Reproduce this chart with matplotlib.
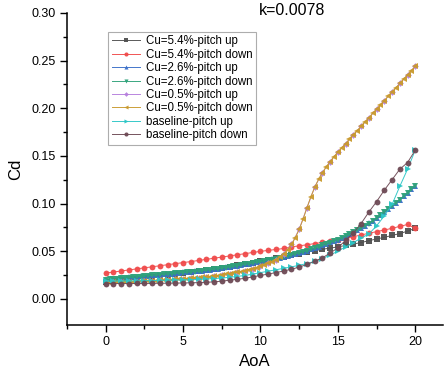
import numpy as np
import matplotlib
matplotlib.use("Agg")
import matplotlib.pyplot as plt

plt.rcParams['font.family'] = ['Liberation Sans', 'DejaVu Sans']

# angle of attack grids
aoa_half = np.arange(0, 20.01, 0.5)      # 41 points
aoa_quarter = np.arange(0, 20.01, 0.25)  # 81 points

# Cu=5.4%
cu54_up = [0.0180, 0.0187, 0.0195, 0.0203, 0.0211, 0.0219, 0.0228, 0.0237, 0.0246, 0.0256,
           0.0266, 0.0277, 0.0288, 0.0299, 0.0311, 0.0323, 0.0336, 0.0350, 0.0364, 0.0379,
           0.0395, 0.0410, 0.0425, 0.0440, 0.0460, 0.0475, 0.0490, 0.0505, 0.0520, 0.0532,
           0.0545, 0.0560, 0.0575, 0.0590, 0.0610, 0.0628, 0.0645, 0.0665, 0.0685, 0.0710,
           0.0740]
cu54_down = [0.0270, 0.0281, 0.0292, 0.0303, 0.0314, 0.0325, 0.0336, 0.0347, 0.0358, 0.0369,
             0.0380, 0.0391, 0.0402, 0.0414, 0.0426, 0.0438, 0.0450, 0.0462, 0.0474, 0.0486,
             0.0498, 0.0508, 0.0518, 0.0528, 0.0545, 0.0556, 0.0567, 0.0580, 0.0592, 0.0605,
             0.0620, 0.0636, 0.0652, 0.0670, 0.0688, 0.0705, 0.0722, 0.0740, 0.0760, 0.0780,
             0.0740]

# Cu=2.6%
cu26_down = [0.0200, 0.0204, 0.0208, 0.0211, 0.0215, 0.0219, 0.0223, 0.0226, 0.0230, 0.0234,
             0.0238, 0.0241, 0.0245, 0.0249, 0.0253, 0.0256, 0.0260, 0.0264, 0.0268, 0.0271,
             0.0275, 0.0279, 0.0283, 0.0286, 0.0290, 0.0295, 0.0300, 0.0305, 0.0310, 0.0316,
             0.0322, 0.0328, 0.0335, 0.0341, 0.0347, 0.0353, 0.0360, 0.0367, 0.0375, 0.0382,
             0.0390, 0.0397, 0.0405, 0.0412, 0.0420, 0.0430, 0.0440, 0.0450, 0.0460, 0.0471,
             0.0482, 0.0493, 0.0505, 0.0518, 0.0532, 0.0546, 0.0560, 0.0575, 0.0590, 0.0605,
             0.0620, 0.0638, 0.0658, 0.0678, 0.0700, 0.0722, 0.0745, 0.0767, 0.0790, 0.0818,
             0.0848, 0.0878, 0.0910, 0.0942, 0.0975, 0.1007, 0.1040, 0.1075, 0.1110, 0.1148,
             0.1186]
cu26_up = [0.0202, 0.0205, 0.0209, 0.0213, 0.0216, 0.0220, 0.0224, 0.0228, 0.0231, 0.0235,
           0.0239, 0.0243, 0.0246, 0.0250, 0.0254, 0.0258, 0.0262, 0.0265, 0.0269, 0.0273,
           0.0277, 0.0281, 0.0284, 0.0288, 0.0292, 0.0297, 0.0302, 0.0307, 0.0312, 0.0318,
           0.0324, 0.0330, 0.0336, 0.0342, 0.0348, 0.0355, 0.0362, 0.0369, 0.0376, 0.0383,
           0.0391, 0.0398, 0.0406, 0.0414, 0.0422, 0.0431, 0.0441, 0.0451, 0.0461, 0.0472,
           0.0483, 0.0494, 0.0506, 0.0519, 0.0533, 0.0547, 0.0561, 0.0576, 0.0591, 0.0606,
           0.0622, 0.0640, 0.0659, 0.0680, 0.0701, 0.0723, 0.0746, 0.0768, 0.0791, 0.0819,
           0.0849, 0.0879, 0.0911, 0.0943, 0.0976, 0.1008, 0.1041, 0.1076, 0.1111, 0.1148,
           0.1186]

# Cu=0.5%
cu05_down = [0.0170, 0.0171, 0.0172, 0.0173, 0.0175, 0.0176, 0.0178, 0.0179, 0.0181, 0.0183,
             0.0185, 0.0187, 0.0189, 0.0191, 0.0193, 0.0195, 0.0198, 0.0200, 0.0203, 0.0206,
             0.0209, 0.0212, 0.0215, 0.0218, 0.0222, 0.0226, 0.0230, 0.0234, 0.0239, 0.0244,
             0.0250, 0.0256, 0.0263, 0.0270, 0.0278, 0.0286, 0.0295, 0.0305, 0.0316, 0.0328,
             0.0341, 0.0355, 0.0371, 0.0389, 0.0410, 0.0436, 0.0470, 0.0515, 0.0570, 0.0640,
             0.0730, 0.0835, 0.0955, 0.1070, 0.1170, 0.1255, 0.1325, 0.1385, 0.1440, 0.1492,
             0.1540, 0.1585, 0.1630, 0.1676, 0.1721, 0.1765, 0.1810, 0.1856, 0.1900, 0.1946,
             0.1990, 0.2034, 0.2080, 0.2126, 0.2170, 0.2214, 0.2260, 0.2306, 0.2350, 0.2396,
             0.2440]
cu05_up = [0.0170, 0.0172, 0.0175, 0.0178, 0.0181, 0.0185, 0.0189, 0.0193, 0.0198, 0.0203,
           0.0209, 0.0215, 0.0222, 0.0230, 0.0239, 0.0250, 0.0263, 0.0278, 0.0295, 0.0316,
           0.0341, 0.0371, 0.0410, 0.0470, 0.0570, 0.0730, 0.0955, 0.1170, 0.1325, 0.1440,
           0.1540, 0.1630, 0.1721, 0.1810, 0.1900, 0.1990, 0.2080, 0.2170, 0.2260, 0.2350,
           0.2440]

# baseline
base_up = [0.0185, 0.0186, 0.0187, 0.0188, 0.0189, 0.0190, 0.0192, 0.0193, 0.0195, 0.0196,
           0.0198, 0.0200, 0.0203, 0.0207, 0.0212, 0.0218, 0.0226, 0.0235, 0.0245, 0.0259,
           0.0275, 0.0290, 0.0305, 0.0320, 0.0335, 0.0352, 0.0370, 0.0393, 0.0420, 0.0460,
           0.0500, 0.0545, 0.0590, 0.0637, 0.0680, 0.0766, 0.0870, 0.0990, 0.1180, 0.1360,
           0.1560]
base_down = [0.0160, 0.0160, 0.0160, 0.0160, 0.0161, 0.0161, 0.0162, 0.0163, 0.0164, 0.0165,
             0.0166, 0.0168, 0.0170, 0.0173, 0.0178, 0.0185, 0.0195, 0.0205, 0.0215, 0.0230,
             0.0245, 0.0260, 0.0275, 0.0292, 0.0310, 0.0333, 0.0360, 0.0393, 0.0430, 0.0480,
             0.0535, 0.0615, 0.0690, 0.0790, 0.0910, 0.1020, 0.1140, 0.1250, 0.1360, 0.1430,
             0.1560]

labels = ['Cu=5.4%-pitch up', 'Cu=5.4%-pitch down', 'Cu=2.6%-pitch up',
          'Cu=2.6%-pitch down', 'Cu=0.5%-pitch up', 'Cu=0.5%-pitch down',
          'baseline-pitch up', 'baseline-pitch down']

fig = plt.figure(figsize=(4.44, 3.79), dpi=100)
ax = fig.add_axes([0.151, 0.1425, 0.847, 0.8232])

series = [
    (aoa_half, cu54_up, '#505050', 's'),
    (aoa_half, cu54_down, '#F04B4B', 'o'),
    (aoa_quarter, cu26_up, '#3A6FC8', '^'),
    (aoa_quarter, cu26_down, '#2FA27A', 'v'),
    (aoa_half, cu05_up, '#B67FDD', 'D'),
    (aoa_quarter, cu05_down, '#C99A2E', '<'),
    (aoa_half, base_up, '#2CC6C6', '>'),
    (aoa_half, base_down, '#6E4A55', 'o'),
]
for (x, y, c, m), lab in zip(series, labels):
    ms = 4.2 if m != 'D' else 3.4
    ax.plot(x, y, color=c, marker=m, markersize=ms, markeredgewidth=0,
            linewidth=0.7, alpha=0.95, label=lab)

ax.set_xlim(-2.5, 21.8)
ax.set_ylim(-0.0275, 0.30)
ax.set_xticks([0, 5, 10, 15, 20])
ax.set_xticks([-2.5, 2.5, 7.5, 12.5, 17.5], minor=True)
ax.set_yticks(np.arange(0, 0.301, 0.05))
ax.set_yticks(np.arange(0.025, 0.30, 0.05), minor=True)
ax.yaxis.set_major_formatter(matplotlib.ticker.FormatStrFormatter('%.2f'))

for s in ['top', 'right']:
    ax.spines[s].set_visible(False)
for s in ['left', 'bottom']:
    ax.spines[s].set_linewidth(1.1)
ax.tick_params(which='major', direction='out', length=5, width=1.0, labelsize=9, pad=3)
ax.tick_params(which='minor', direction='out', length=3, width=1.0)

ax.set_xlabel('AoA', fontsize=12, labelpad=4)
ax.set_ylabel('Cd', fontsize=12, labelpad=6)

fig.text(0.658, 0.972, 'k=0.0078', fontsize=11.5, ha='center', va='center')

leg = ax.legend(loc='upper left', bbox_to_anchor=(0.11, 0.939), fontsize=8.3,
                frameon=True, fancybox=False, borderpad=0.3, handlelength=2.4,
                handletextpad=0.55, labelspacing=0.12, borderaxespad=0,
                markerscale=0.7)
leg.get_frame().set_edgecolor('#999999')
leg.get_frame().set_linewidth(0.8)

fig.savefig('out.png', dpi=100)
